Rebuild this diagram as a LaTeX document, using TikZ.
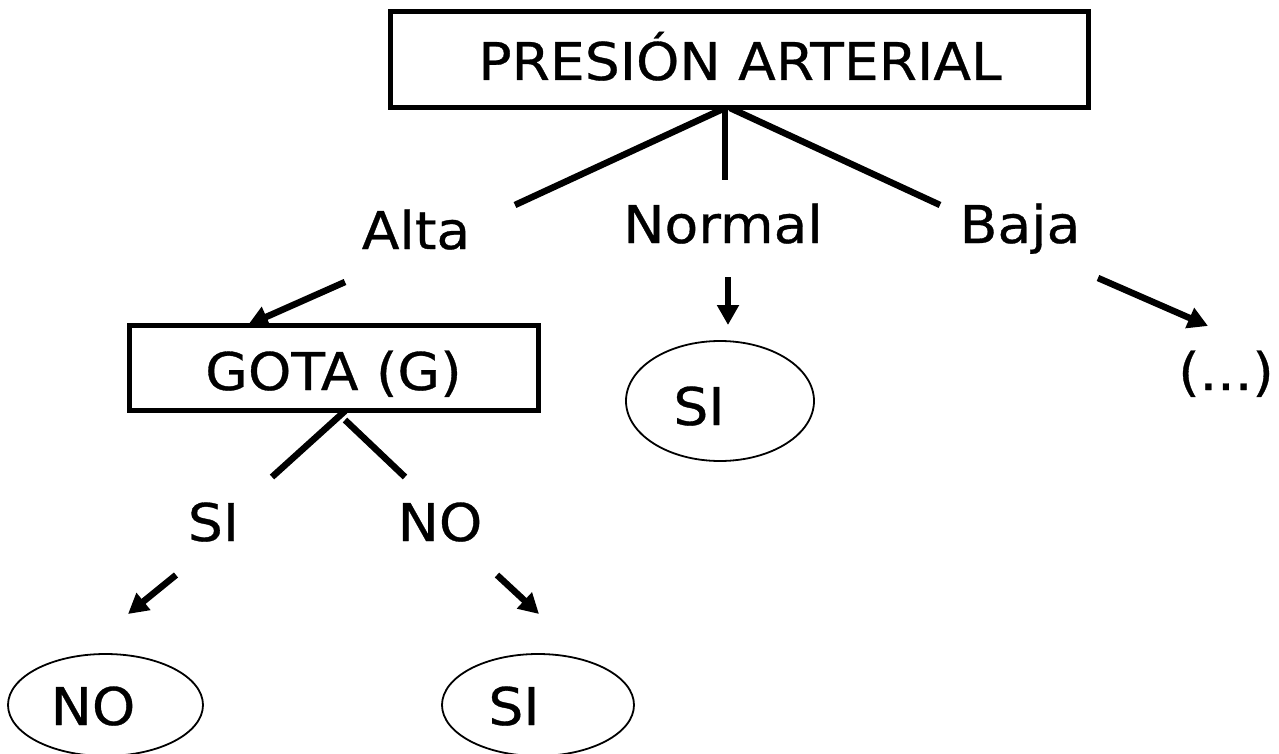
\documentclass[tikz,border=0pt]{standalone}
\usepackage{fontspec}
\setmainfont{DejaVu Sans}[FakeStretch=1.06,FakeBold=0.6]
\usetikzlibrary{shapes.geometric,arrows.meta}
\begin{document}
\begin{tikzpicture}[x=1pt,y=-1pt,
  big/.style={font=\fontsize{52}{60}\selectfont, inner sep=0pt, anchor=base},
  box/.style={draw, line width=5pt, inner sep=0pt},
  oval/.style={draw, ellipse, line width=1.8pt, inner sep=0pt},
  link/.style={line width=6.5pt},
  arr/.style={line width=6.5pt, -{Triangle[length=20pt,width=21pt]}}]
\useasboundingbox (0,0) rectangle (1279,754);

% decision boxes
\node[box, minimum width=698pt, minimum height=96pt] (root) at (739,60) {};
\node[big] (rootT) at (740,80) {PRESIÓN ARTERIAL};
\node[box, minimum width=409pt, minimum height=85pt] (gota) at (333.5,367.5) {};
\node[big] (gotaT) at (333.5,390) {GOTA (G)};

% branch labels
\node[big] (alta) at (416,249) {Alta};
\node[big] (normal) at (723,243) {Normal};
\node[big] (baja) at (1020,243) {Baja};
\node[big] (gsi) at (213.5,541) {SI};
\node[big] (gno) at (440,541) {NO};

% leaves
\node[oval, minimum width=188pt, minimum height=120pt] (leafN) at (720,401) {};
\node[big] (leafNT) at (699,425) {SI};
\node[big] (more) at (1226,390) {(...)};
\node[oval, minimum width=195pt, minimum height=102pt] (leafA) at (105.5,705) {};
\node[big] (leafAT) at (93,725) {NO};
\node[oval, minimum width=192pt, minimum height=102pt] (leafB) at (538,705) {};
\node[big] (leafBT) at (514,725) {SI};

% connector end points
\coordinate (rA) at (725,108);
\coordinate (rB) at (730,108);
\coordinate (altaE) at (515,205);
\coordinate (normE) at (725,180);
\coordinate (bajaE) at (940,205);
\coordinate (altaS) at (345,282);
\coordinate (gotaTip) at (248,325);
\coordinate (normS) at (728,277);
\coordinate (normTip) at (728,325);
\coordinate (bajaS) at (1098,278);
\coordinate (bajaTip) at (1208,326);
\coordinate (gA) at (345,411);
\coordinate (gB) at (345,420);
\coordinate (gsiE) at (272,477);
\coordinate (gnoE) at (405,477);
\coordinate (siS) at (176,575);
\coordinate (siTip) at (128,614);
\coordinate (noS) at (497,575);
\coordinate (noTip) at (539,614);

% connectors
\draw[link] (rA) -- (altaE);
\draw[link] (rA) -- (normE);
\draw[link] (rB) -- (bajaE);
\draw[arr] (altaS) -- (gotaTip);
\draw[arr] (normS) -- (normTip);
\draw[arr] (bajaS) -- (bajaTip);
\draw[link] (gA) -- (gsiE);
\draw[link] (gB) -- (gnoE);
\draw[arr] (siS) -- (siTip);
\draw[arr] (noS) -- (noTip);
\end{tikzpicture}
\end{document}
